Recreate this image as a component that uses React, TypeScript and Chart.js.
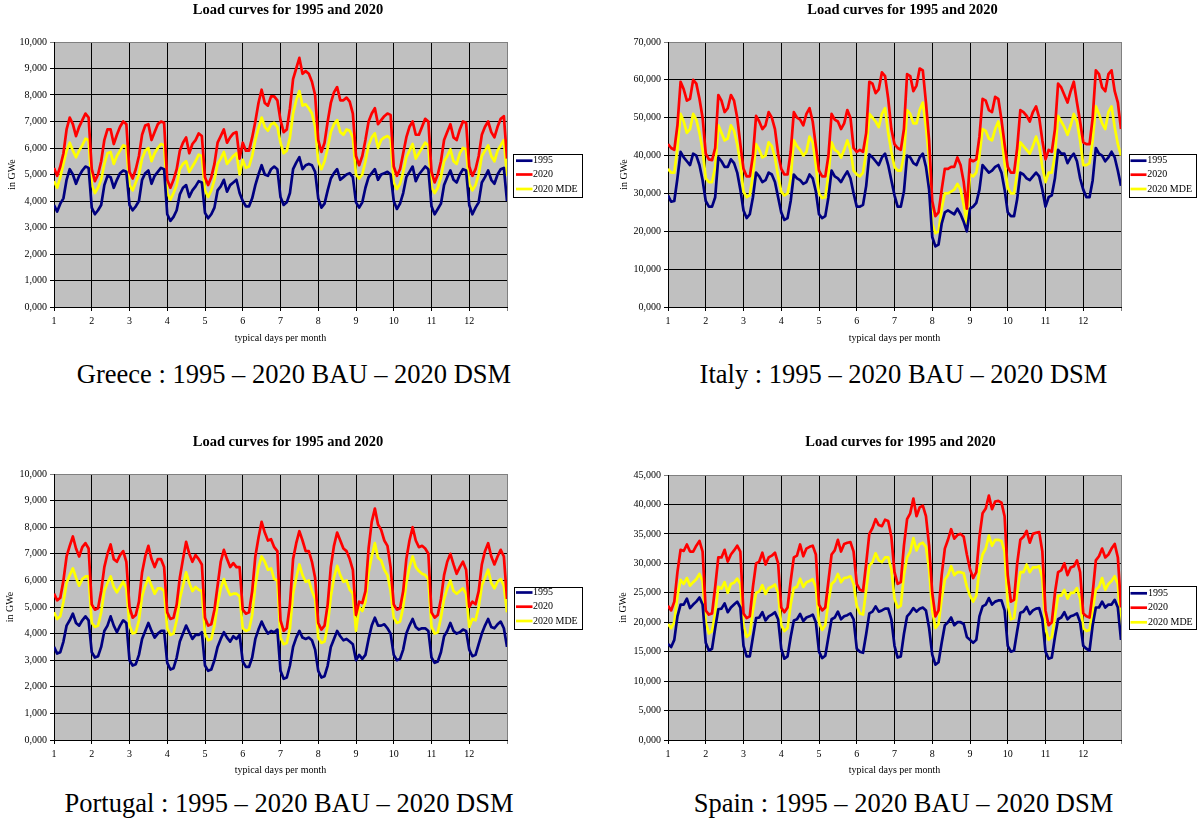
import React, { useEffect, useRef } from "react";
import { Chart, registerables } from "chart.js";

Chart.register(...registerables);

const FONT = '"Liberation Serif", "Times New Roman", Times, serif';
const SERIES_LABELS = ["1995", "2020", "2020 MDE"];
const SERIES_COLORS = ["#000080", "#FF0000", "#FFFF00"];
const MONTH_LABELS = ["1", "2", "3", "4", "5", "6", "7", "8", "9", "10", "11", "12"];
const POINTS_PER_MONTH = 12;
const CHART_TITLE = "Load curves for 1995 and 2020";
const X_TITLE = "typical days per month";
const Y_TITLE = "in GWe";

// ---------------- Greece ----------------
const greece1995 = [
  3850, 3600, 3900, 4100, 4800, 5200, 5000, 4650, 4950, 5150, 5300, 5250,
  3750, 3500, 3650, 3850, 4600, 4950, 4900, 4500, 4800, 5050, 5150, 5100,
  3850, 3650, 3800, 4000, 4800, 5050, 5150, 4650, 4950, 5100, 5250, 5200,
  3500, 3250, 3400, 3650, 4250, 4500, 4600, 4150, 4400, 4550, 4750, 4700,
  3550, 3350, 3500, 3750, 4400, 4550, 4800, 4350, 4600, 4700, 4800, 4300,
  4000, 3800, 3800, 4100, 4600, 5000, 5350, 5000, 4950, 5200, 5300, 5200,
  4150, 3850, 3950, 4300, 5200, 5450, 5650, 5200, 5350, 5400, 5350, 5100,
  4100, 3750, 3900, 4400, 4850, 5050, 5200, 4800, 4900, 5000, 5050, 4900,
  3950, 3750, 3950, 4500, 4900, 5050, 5200, 4800, 5000, 5050, 5100, 5000,
  4000, 3700, 3900, 4300, 4900, 5100, 5300, 4750, 5000, 5150, 5300, 5200,
  3800, 3500, 3700, 3900, 4600, 4900, 5150, 4800, 4700, 5000, 5200, 5150,
  3850, 3500, 3750, 3950, 4700, 4900, 5150, 4800, 4650, 5000, 5200, 5250,
  4000,
];
const greece2020 = [
  5250, 4950, 5300, 5800, 6700, 7150, 6900, 6450, 6800, 7050, 7300, 7150,
  5200, 4750, 5000, 5500, 6300, 6700, 6700, 6150, 6500, 6800, 7000, 6900,
  5100, 4850, 5200, 5700, 6500, 6850, 6900, 6300, 6600, 6900, 7000, 6950,
  4800, 4500, 4800, 5200, 5900, 6200, 6400, 5800, 6150, 6300, 6550, 6450,
  4900, 4600, 4900, 5400, 6200, 6450, 6700, 6200, 6400, 6550, 6600, 5600,
  6200, 5900, 5900, 6400, 7000, 7700, 8200, 7700, 7600, 7950, 7950, 7800,
  7050, 6600, 6700, 7500, 8600, 9000, 9400, 8800, 8900, 8800, 8500, 8000,
  6300, 5850, 6200, 7000, 7700, 8100, 8300, 7800, 7800, 7900, 7750, 7300,
  5700, 5350, 5700, 6300, 7000, 7300, 7500, 6900, 7050, 7200, 7300, 7250,
  5300, 4950, 5200, 5800, 6400, 6800, 7000, 6500, 6500, 6800, 7100, 7000,
  5100, 4700, 5000, 5500, 6300, 6600, 6900, 6400, 6300, 6700, 7000, 6950,
  5300, 4950, 5200, 5700, 6500, 6800, 7000, 6600, 6400, 6800, 7100, 7200,
  5600,
];
const greece2020MDE = [
  4750, 4500, 4900, 5400, 5900, 6200, 5900, 5650, 5900, 6100, 6350, 6300,
  4600, 4300, 4500, 4800, 5400, 5800, 5850, 5400, 5700, 5900, 6100, 6050,
  4600, 4400, 4700, 5000, 5600, 5900, 6000, 5500, 5800, 6000, 6150, 6100,
  4300, 4050, 4300, 4600, 5200, 5400, 5500, 5100, 5300, 5500, 5750, 5700,
  4400, 4150, 4400, 4800, 5400, 5600, 5850, 5400, 5550, 5700, 5800, 5000,
  5550, 5250, 5300, 5700, 6300, 6750, 7150, 6800, 6650, 6900, 6950, 6800,
  6200, 5800, 5900, 6400, 7300, 7800, 8150, 7600, 7650, 7500, 7300, 6800,
  5500, 5200, 5500, 6000, 6600, 6900, 7050, 6600, 6500, 6700, 6650, 6400,
  5000, 4850, 5000, 5500, 6100, 6400, 6550, 6000, 6300, 6400, 6450, 6350,
  4700, 4450, 4650, 5100, 5650, 5900, 6150, 5600, 5800, 6000, 6200, 6100,
  4500, 4300, 4500, 4900, 5500, 5700, 5950, 5500, 5400, 5800, 6000, 5950,
  4650, 4400, 4600, 5000, 5700, 5900, 6100, 5700, 5500, 5900, 6100, 6300,
  4950,
];

// ---------------- Italy ----------------
const italy1995 = [
  29500, 27800, 28000, 34000, 41000, 39500, 38500, 37500, 40500, 40000, 37500, 33500,
  28000, 26500, 26500, 29000, 39500, 38500, 37000, 37000, 39000, 38000, 35500, 31000,
  25500, 23500, 24500, 29000, 35500, 34500, 33000, 33500, 35500, 35000, 33000, 29000,
  25000, 23000, 23500, 28000, 35000, 34000, 33500, 32500, 33000, 35000, 34000, 30500,
  24500, 23500, 24000, 29000, 36000, 34500, 34000, 33000, 34500, 35800, 34000, 30000,
  26500, 26500, 27000, 32000, 40300, 39500, 38500, 37500, 39500, 40500, 37500, 33500,
  29500, 26500, 26500, 30500, 40000, 39500, 38000, 37500, 39500, 40500, 37000, 31000,
  18500, 16000, 16500, 22000, 25000, 25500, 25000, 24500, 26000, 24500, 22500, 20000,
  26000, 26500, 27500, 31000, 37500, 36500, 35500, 36000, 37000, 37500, 35500, 31000,
  25000, 24000, 24000, 28500, 35500, 35000, 34000, 33500, 34500, 35500, 34500, 31000,
  26500, 29000, 29500, 34000, 41500, 40500, 40500, 38000, 39500, 40500, 38500, 34000,
  31000, 29000, 29000, 33500, 42000, 40500, 40000, 38500, 39500, 41000, 39500, 36000,
  32000,
];
const italy2020 = [
  43000, 42000, 41500, 48000, 59500, 57500, 54500, 55000, 60000, 59000, 55000, 50000,
  40500, 39000, 38800, 42000, 56000, 54500, 51500, 52500, 56000, 54500, 50000, 43000,
  36500, 34500, 34500, 40000, 50500, 49000, 47000, 48000, 51500, 50000, 47000, 40500,
  36500, 35000, 35000, 41000, 51500, 50000, 49500, 48000, 51000, 52500, 49000, 42500,
  36000, 34500, 34500, 40000, 51000, 49500, 49000, 47000, 48500, 52000, 50000, 42000,
  41000, 41500, 41000, 46000, 59500, 59000, 56500, 57500, 62000, 61000, 55000, 47000,
  43000, 42000, 41500, 47000, 61500, 61000, 57000, 58500, 63000, 62500, 54000, 44000,
  28000, 24000, 25000, 31000, 36500, 36500, 37000, 37000, 39500, 37500, 33000, 26000,
  39000, 38500, 39000, 45000, 55000, 54500, 52000, 51500, 55500, 55000, 49500, 43000,
  37000, 35500, 35500, 42000, 52000, 51500, 50500, 49000, 51500, 53000, 50000, 44000,
  39000, 41500, 41000, 47000, 59000, 58000, 56000, 54000, 57000, 59500, 54000, 49000,
  43500, 43000, 43000, 50000, 62500, 61500, 58000, 57000, 61500, 62500, 57000, 54000,
  47000,
];
const italy2020MDE = [
  36500, 35500, 35500, 42000, 51000, 49000, 46000, 47000, 51000, 49500, 46000, 41500,
  34000, 33000, 33000, 37000, 48000, 46000, 44000, 44500, 48000, 46500, 43000, 38000,
  30500, 29000, 29500, 35000, 43000, 41500, 39500, 40000, 43500, 42500, 39500, 34500,
  30500, 29500, 30000, 34000, 44000, 42500, 41500, 40000, 41000, 45000, 43500, 37500,
  30000, 28800, 29000, 35000, 43500, 41500, 41000, 39500, 41500, 44000, 41500, 36000,
  35000, 34500, 35500, 41000, 51000, 50000, 49000, 47500, 51000, 52500, 46000, 41000,
  37000, 36000, 36000, 40000, 52000, 51000, 48500, 48500, 52000, 54000, 47500, 39000,
  22000, 19500, 20000, 26000, 30000, 30000, 30500, 31000, 32500, 31000, 27000, 22000,
  35000, 34500, 35500, 40000, 47000, 46500, 44500, 44000, 47000, 49000, 45000, 38000,
  31500, 30000, 30000, 35500, 43500, 42500, 41500, 40500, 42500, 45000, 42500, 37000,
  33000, 35500, 35500, 40000, 50500, 49000, 47500, 45500, 48000, 51000, 49000, 44000,
  37500, 37500, 38000, 44000, 53000, 51000, 48500, 47000, 51500, 53000, 47500, 43000,
  40000,
];

// ---------------- Portugal ----------------
const portugal1995 = [
  3500, 3250, 3300, 3700, 4300, 4500, 4750, 4400, 4300, 4500, 4650, 4500,
  3300, 3100, 3150, 3500, 4100, 4300, 4650, 4300, 4050, 4300, 4500, 4400,
  3000, 2800, 2850, 3200, 3800, 4100, 4400, 4100, 3850, 4000, 4100, 4100,
  2900, 2650, 2700, 3100, 3700, 4000, 4300, 4050, 3800, 3950, 3950, 4050,
  2800, 2600, 2650, 3000, 3500, 3800, 4050, 3850, 3700, 3900, 3800, 3950,
  2950, 2750, 2750, 3100, 3800, 4150, 4450, 4200, 4000, 4100, 4050, 4150,
  2600, 2300, 2350, 2800, 3500, 3850, 4100, 3850, 3800, 3850, 3750, 3400,
  2600, 2350, 2400, 2800, 3500, 3800, 4100, 3900, 3750, 3800, 3700, 3600,
  3000, 3200, 3050, 3200, 3800, 4300, 4600, 4300, 4300, 4350, 4200, 4000,
  3200, 3000, 3050, 3400, 4000, 4300, 4550, 4250, 4150, 4200, 4200, 4100,
  3100, 2900, 2950, 3300, 3900, 4100, 4400, 4100, 4000, 4050, 4150, 4100,
  3400, 3150, 3200, 3600, 4000, 4300, 4550, 4250, 4200, 4350, 4450, 4200,
  3500,
];
const portugal2020 = [
  5500, 5250, 5350, 6000, 6900, 7300, 7650, 7200, 6900, 7250, 7400, 7200,
  5100, 4900, 4950, 5600, 6500, 7000, 7350, 6800, 6700, 6950, 7100, 6700,
  5000, 4600, 4700, 5200, 6300, 6900, 7300, 6800, 6500, 6800, 6800, 6500,
  4800, 4550, 4600, 5100, 6100, 6800, 7450, 7000, 6700, 6950, 6800, 6600,
  4600, 4300, 4350, 4900, 5800, 6700, 7150, 6800, 6500, 6650, 6500, 6500,
  4900, 4750, 4800, 5600, 6900, 7600, 8200, 7800, 7500, 7550, 7250, 7100,
  4500, 4100, 4200, 5100, 6800, 7400, 7850, 7500, 7100, 7100, 6700, 6100,
  4400, 4150, 4300, 5100, 6500, 7300, 7800, 7500, 7200, 7100, 6800, 6400,
  4700, 5200, 5150, 5600, 7200, 8200, 8700, 8100, 7900, 7500, 7300, 6500,
  5100, 4900, 4950, 5600, 6800, 7500, 8000, 7500, 7250, 7300, 7200, 7000,
  4800, 4600, 4700, 5300, 6200, 6700, 7000, 6600, 6250, 6500, 6700, 6400,
  5000, 5200, 5100, 5600, 6600, 7100, 7400, 6900, 6600, 6900, 7150, 6900,
  5300,
];
const portugal2020MDE = [
  4800, 4550, 4650, 5200, 5900, 6200, 6450, 6100, 5800, 6050, 6150, 6150,
  4400, 4250, 4300, 4800, 5600, 5900, 6150, 5750, 5550, 5750, 5950, 5700,
  4300, 4000, 4050, 4500, 5400, 5800, 6100, 5800, 5500, 5700, 5700, 5600,
  4200, 3950, 4000, 4500, 5300, 5800, 6300, 5900, 5600, 5750, 5650, 5600,
  4000, 3750, 3800, 4300, 5100, 5700, 6050, 5700, 5450, 5500, 5500, 5400,
  4200, 4100, 4150, 4700, 5800, 6500, 6900, 6700, 6400, 6450, 6050, 6000,
  3850, 3600, 3650, 4200, 5500, 6100, 6600, 6200, 5950, 6000, 5600, 5300,
  3850, 3650, 3700, 4300, 5400, 6100, 6550, 6200, 5950, 6000, 5650, 5500,
  4100, 5000, 4850, 5200, 6300, 6900, 7400, 6850, 6750, 6400, 6200, 5600,
  4600, 4400, 4450, 5000, 5900, 6500, 6900, 6500, 6350, 6250, 6200, 6050,
  4250, 4000, 4050, 4600, 5300, 5700, 6000, 5600, 5500, 5600, 5700, 5500,
  4250, 4550, 4500, 5000, 5800, 6100, 6400, 5900, 5700, 5950, 6050, 5800,
  4800,
];

// ---------------- Spain ----------------
const spain1995 = [
  16300, 15800, 17000, 21000, 23000, 23000, 24000, 22400, 23000, 23500, 24200, 23000,
  16500, 15200, 15500, 19000, 22200, 22300, 23200, 21700, 22500, 23000, 23500, 22500,
  16000, 14200, 14200, 17500, 20700, 20800, 21700, 20300, 21000, 21300, 21700, 20500,
  15500, 13800, 14200, 17500, 20300, 20500, 21400, 20200, 20800, 21000, 21300, 20000,
  15000, 13900, 14300, 17500, 20500, 20800, 21800, 20500, 21000, 21200, 21500, 20500,
  15500, 15000, 14800, 18000, 21500, 21800, 22700, 21800, 22000, 22300, 22300, 20500,
  16000, 14000, 14200, 18000, 21000, 21600, 22400, 21800, 22300, 22500, 22000, 19000,
  14500, 12800, 13200, 16500, 19500, 20000, 20800, 19500, 20000, 20000, 19700, 17500,
  17000, 16500, 17000, 21000, 22700, 23000, 24100, 23000, 23500, 23700, 23700, 22000,
  16000, 15000, 15200, 18500, 21600, 21800, 22600, 21400, 22000, 22300, 22400, 20500,
  15000, 13800, 14000, 17500, 20500, 20800, 21700, 20500, 21000, 21200, 21500, 20000,
  16000, 15500, 15200, 19500, 22500, 22500, 23500, 22500, 23000, 23000, 23800, 22500,
  17000,
];
const spain2020 = [
  22800, 22000, 23500, 28500, 32300, 32100, 33200, 32000, 32000, 33000, 33800, 32000,
  22000, 21300, 21500, 26000, 31000, 31000, 32300, 30300, 31500, 32200, 33000, 32000,
  21500, 20700, 21000, 26000, 30000, 30300, 31800, 29800, 31000, 31300, 31800, 30000,
  22500, 21700, 22500, 27000, 31000, 31300, 33200, 31200, 32500, 32800, 33000, 31500,
  23000, 22000, 22500, 27000, 31500, 32200, 34000, 32000, 33300, 33500, 33600, 32000,
  26500, 25500, 25300, 30000, 35000, 36000, 37500, 36500, 36300, 37400, 37200, 34500,
  28500, 26500, 26800, 33000, 37500, 38500, 41000, 38000, 39500, 39800, 38000, 33000,
  25000, 21000, 22000, 28000, 32500, 34000, 35800, 34200, 34800, 35000, 34500, 31500,
  29000, 27500, 28500, 34500, 38500, 39300, 41500, 39200, 40500, 40600, 40300, 38000,
  28000, 23500, 23800, 30000, 34000, 34500, 35500, 33500, 35000, 35200, 35300, 32000,
  22000, 19500, 20000, 25000, 28500, 28800, 30000, 28000, 29300, 29500, 30500, 28500,
  21500, 21000, 20800, 25000, 30500, 31200, 32500, 31000, 31500, 32500, 33300, 31000,
  22500,
];
const spain2020MDE = [
  19700, 19000, 20000, 24500, 27200, 26500, 27500, 26200, 26800, 27300, 28200, 27000,
  20000, 18100, 18500, 21500, 26000, 25700, 26800, 25000, 26500, 26700, 27400, 26500,
  19500, 17500, 18000, 22000, 25000, 25200, 26300, 24800, 25800, 26000, 26400, 25000,
  19500, 18500, 19000, 23000, 25800, 26000, 27400, 26000, 26800, 27000, 27300, 26000,
  20000, 18700, 19500, 23500, 26500, 27000, 28200, 26800, 27500, 27600, 27800, 26500,
  22800, 21500, 21300, 25500, 29600, 30200, 31700, 30500, 30200, 31000, 31000, 29000,
  24000, 22500, 22800, 28000, 31000, 32000, 34300, 32200, 33300, 33500, 32800, 29000,
  22000, 19000, 19700, 24000, 27200, 28000, 29500, 28000, 28500, 28500, 28300, 26000,
  24500, 23500, 24500, 29000, 31500, 32500, 34700, 33000, 34000, 34000, 33800, 32000,
  23000, 20500, 20700, 25000, 28500, 28500, 29800, 28500, 29300, 29300, 29500, 27500,
  19000, 17000, 17500, 21000, 24500, 24500, 25500, 24000, 25000, 25000, 25800, 24000,
  19000, 18500, 18700, 22000, 25500, 26000, 27500, 25500, 26500, 27000, 27800, 26500,
  19000,
];

type Box = {
  left: number; top: number; width: number; height: number;
  plot: { l: number; t: number; r: number; b: number };
  yTitleX: number; xTitleY: number;
  titleX: number; titleY: number;
  legend: { x1: number; y1: number; x2: number; y2: number; lineX1: number; lineX2: number; textX: number; rows: number[] };
};

type ChartProps = { box: Box; series: number[][]; yMax: number; yStep: number };

function LoadChart({ box, series, yMax, yStep }: ChartProps) {
  const ref = useRef<HTMLCanvasElement | null>(null);
  useEffect(() => {
    if (!ref.current) return;
    const B = box;
    const n = MONTH_LABELS.length * POINTS_PER_MONTH;
    const lh = 12;
    const padL = B.yTitleX - B.left - lh / 2;
    const yW = B.plot.l - B.left - padL;
    const xH = B.xTitleY - B.plot.b + lh / 2;
    const padB = B.top + B.height - B.plot.b - xH;
    const padT = B.plot.t - B.top;
    const padR = B.left + B.width - B.plot.r;

    const decor = {
      id: "decor",
      beforeDraw(c: any) {
        const a = c.chartArea;
        const ctx = c.ctx;
        ctx.save();
        ctx.fillStyle = "#C0C0C0";
        ctx.fillRect(a.left, a.top, a.right - a.left, a.bottom - a.top);
        ctx.restore();
      },
      afterDraw(c: any) {
        const ctx = c.ctx;
        const ox = B.left;
        const oy = B.top;
        ctx.save();
        ctx.fillStyle = "#000";
        ctx.font = `bold 14.5px ${FONT}`;
        ctx.textAlign = "center";
        ctx.textBaseline = "alphabetic";
        ctx.fillText(CHART_TITLE, B.titleX - ox, B.titleY - oy);
        const lg = B.legend;
        ctx.fillStyle = "#FFFFFF";
        ctx.fillRect(lg.x1 - ox, lg.y1 - oy, lg.x2 - lg.x1, lg.y2 - lg.y1);
        ctx.strokeStyle = "#000";
        ctx.lineWidth = 1;
        ctx.strokeRect(Math.round(lg.x1 - ox) + 0.5, Math.round(lg.y1 - oy) + 0.5, Math.round(lg.x2 - lg.x1), Math.round(lg.y2 - lg.y1));
        c.data.datasets.forEach((ds: any, k: number) => {
          const y = lg.rows[k] - oy;
          ctx.strokeStyle = ds.borderColor;
          ctx.lineWidth = 2.7;
          ctx.beginPath();
          ctx.moveTo(lg.lineX1 - ox, y);
          ctx.lineTo(lg.lineX2 - ox, y);
          ctx.stroke();
          ctx.fillStyle = "#000";
          ctx.font = `10px ${FONT}`;
          ctx.textAlign = "left";
          ctx.textBaseline = "middle";
          ctx.fillText(ds.label, lg.textX - ox, y);
        });
        ctx.restore();
      },
    };

    const chart = new Chart(ref.current, {
      type: "line",
      data: {
        datasets: series.map((s, k) => ({
          label: SERIES_LABELS[k],
          data: s.map((v, i) => ({ x: i, y: v })),
          borderColor: SERIES_COLORS[k],
          backgroundColor: SERIES_COLORS[k],
          borderWidth: 2.7,
          pointRadius: 0,
          tension: 0,
          fill: false,
          borderJoinStyle: "round",
        })),
      },
      options: {
        responsive: false,
        animation: false,
        devicePixelRatio: 1,
        events: [],
        layout: { padding: { left: padL, right: padR, top: padT, bottom: padB } },
        plugins: { legend: { display: false }, title: { display: false }, tooltip: { enabled: false } },
        scales: {
          x: {
            type: "linear",
            min: 0,
            max: n,
            ticks: {
              stepSize: POINTS_PER_MONTH,
              autoSkip: false,
              maxRotation: 0,
              padding: 4,
              color: "#000",
              font: { family: FONT, size: 10 },
              callback: (v: any) => {
                const i = Math.round(Number(v) / POINTS_PER_MONTH);
                return MONTH_LABELS[i] ?? "";
              },
            },
            grid: {
              color: (ctx: any) => (ctx.tick && ctx.tick.value === n ? "#808080" : "#000"),
              lineWidth: 1,
              tickLength: 4,
            },
            border: { display: true, color: "#000", width: 1 },
            title: { display: true, text: X_TITLE, color: "#000", font: { family: FONT, size: 10 }, padding: { top: 0, bottom: 0 } },
            afterFit: (s: any) => { s.height = xH; },
          },
          y: {
            type: "linear",
            min: 0,
            max: yMax,
            ticks: {
              stepSize: yStep,
              padding: 3,
              color: "#000",
              font: { family: FONT, size: 10 },
              callback: (v: any) => `${Math.round(Number(v) / 1000)},000`,
            },
            grid: {
              color: (ctx: any) => (ctx.tick && ctx.tick.value === yMax ? "#808080" : "#000"),
              lineWidth: 1,
              tickLength: 4,
            },
            border: { display: true, color: "#000", width: 1 },
            title: { display: true, text: Y_TITLE, color: "#000", font: { family: FONT, size: 10 }, padding: { top: 0, bottom: 0 } },
            afterFit: (s: any) => { s.width = yW; },
          },
        },
      } as any,
      plugins: [decor],
    } as any);
    return () => chart.destroy();
  }, []);
  return (
    <canvas
      ref={ref}
      width={box.width}
      height={box.height}
      style={{ position: "absolute", left: box.left, top: box.top, width: box.width, height: box.height }}
    />
  );
}

const GREECE_BOX: Box = {
  left: 0, top: 0, width: 595, height: 350,
  plot: { l: 54, t: 42, r: 507, b: 307 },
  yTitleX: 12, xTitleY: 338, titleX: 288, titleY: 13.5,
  legend: { x1: 513, y1: 153.5, x2: 581.5, y2: 196, lineX1: 516, lineX2: 532.5, textX: 533, rows: [160.7, 174.5, 189] },
};
const ITALY_BOX: Box = {
  left: 600, top: 0, width: 597, height: 350,
  plot: { l: 668, t: 42, r: 1121, b: 307 },
  yTitleX: 624, xTitleY: 338, titleX: 902.5, titleY: 13.5,
  legend: { x1: 1128.5, y1: 154, x2: 1195, y2: 196.5, lineX1: 1130.5, lineX2: 1146.5, textX: 1147.3, rows: [160.7, 174.7, 189] },
};
const PORTUGAL_BOX: Box = {
  left: 0, top: 425, width: 595, height: 355,
  plot: { l: 54, t: 474, r: 507, b: 740 },
  yTitleX: 10, xTitleY: 770, titleX: 288, titleY: 445.5,
  legend: { x1: 513.5, y1: 586.5, x2: 581, y2: 628.5, lineX1: 516, lineX2: 532.5, textX: 533, rows: [592.5, 606.7, 621] },
};
const SPAIN_BOX: Box = {
  left: 600, top: 425, width: 597, height: 355,
  plot: { l: 668, t: 475, r: 1121, b: 740 },
  yTitleX: 623, xTitleY: 770, titleX: 900.5, titleY: 445.5,
  legend: { x1: 1128.5, y1: 586, x2: 1195, y2: 629, lineX1: 1130.5, lineX2: 1147, textX: 1148, rows: [593.3, 607.7, 622.3] },
};

const CAPTIONS = [
  { text: "Greece : 1995 \u2013 2020 BAU \u2013 2020 DSM", cx: 294, baseline: 383 },
  { text: "Italy : 1995 \u2013 2020 BAU \u2013 2020 DSM", cx: 903.5, baseline: 383 },
  { text: "Portugal : 1995 \u2013 2020 BAU \u2013 2020 DSM", cx: 289, baseline: 812 },
  { text: "Spain : 1995 \u2013 2020 BAU \u2013 2020 DSM", cx: 903.5, baseline: 812 },
];

export default function App() {
  return (
    <div style={{ position: "absolute", left: 0, top: 0, width: 1197, height: 823, background: "#fff", overflow: "hidden" }}>
      <LoadChart box={GREECE_BOX} series={[greece1995, greece2020, greece2020MDE]} yMax={10000} yStep={1000} />
      <LoadChart box={ITALY_BOX} series={[italy1995, italy2020, italy2020MDE]} yMax={70000} yStep={10000} />
      <LoadChart box={PORTUGAL_BOX} series={[portugal1995, portugal2020, portugal2020MDE]} yMax={10000} yStep={1000} />
      <LoadChart box={SPAIN_BOX} series={[spain1995, spain2020, spain2020MDE]} yMax={45000} yStep={5000} />
      {CAPTIONS.map((c) => (
        <div
          key={c.text}
          style={{
            position: "absolute",
            left: c.cx - 300,
            width: 600,
            top: c.baseline - 24,
            height: 30,
            lineHeight: "30px",
            fontSize: "26.5px",
            fontFamily: FONT,
            textAlign: "center",
            color: "#000",
            whiteSpace: "nowrap",
          }}
        >
          {c.text}
        </div>
      ))}
    </div>
  );
}
